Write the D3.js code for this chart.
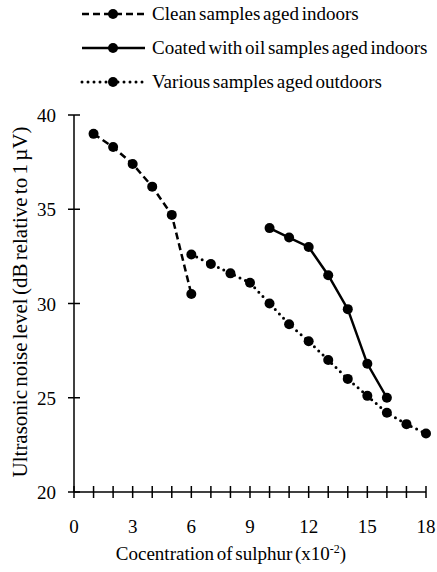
<!DOCTYPE html>
<html>
<head>
<meta charset="utf-8">
<script src="https://cdn.jsdelivr.net/npm/d3@7"></script>
<style>
  body { margin: 0; background: #fff; }
  text { font-family: "Liberation Serif", "Times New Roman", serif; fill: #000; }
</style>
</head>
<body>
<svg width="437" height="572"></svg>
<script>
// data
var cleanX = [1, 2, 3, 4, 5, 6];
var cleanY = [39.0, 38.3, 37.4, 36.2, 34.7, 30.5];
var oilX = [10, 11, 12, 13, 14, 15, 16];
var oilY = [34.0, 33.5, 33.0, 31.5, 29.7, 26.8, 25.0];
var outX = [6, 7, 8, 9, 10, 11, 12, 13, 14, 15, 16, 17, 18];
var outY = [32.6, 32.1, 31.6, 31.1, 30.0, 28.9, 28.0, 27.0, 26.0, 25.1, 24.2, 23.6, 23.1];
var seriesNames = ["Clean samples aged indoors", "Coated with oil samples aged indoors", "Various samples aged outdoors"];
var xTickLabels = [0, 3, 6, 9, 12, 15, 18];
var yTickLabels = [20, 25, 30, 35, 40];

var svg = d3.select("svg");

var x = d3.scaleLinear().domain([0, 18]).range([74, 426]);
var y = d3.scaleLinear().domain([20, 40]).range([492, 115]);

var series = [
  {name: seriesNames[0], xs: cleanX, ys: cleanY, dash: "7,4", cap: "butt"},
  {name: seriesNames[1], xs: oilX, ys: oilY, dash: null, cap: "butt"},
  {name: seriesNames[2], xs: outX, ys: outY, dash: "0,6", cap: "round"}
];

// x axis - ticks every unit, crossing the line
var xAxis = svg.append("g").attr("transform", "translate(0," + y(20) + ")");
xAxis.append("line").attr("x1", x(0)).attr("x2", x(18)).attr("stroke", "#000").attr("stroke-width", 1.5);
xAxis.selectAll(".tk").data(d3.range(0, 19)).enter().append("line")
  .attr("x1", function(d){return x(d);}).attr("x2", function(d){return x(d);})
  .attr("y1", -6).attr("y2", 6).attr("stroke", "#000").attr("stroke-width", 1.5);
xAxis.selectAll(".lb").data(xTickLabels).enter().append("text")
  .attr("x", function(d){return x(d);}).attr("y", 41)
  .attr("text-anchor", "middle").attr("font-size", 19)
  .text(function(d){return d;});

// y axis
var yAxis = svg.append("g").attr("transform", "translate(" + x(0) + ",0)");
yAxis.append("line").attr("y1", y(20)).attr("y2", y(40)).attr("stroke", "#000").attr("stroke-width", 1.5);
yAxis.selectAll(".tk").data(yTickLabels).enter().append("line")
  .attr("y1", function(d){return y(d);}).attr("y2", function(d){return y(d);})
  .attr("x1", -6).attr("x2", 6).attr("stroke", "#000").attr("stroke-width", 1.5);
yAxis.selectAll(".lb").data(yTickLabels).enter().append("text")
  .attr("x", -18).attr("y", function(d){return y(d) + 7;})
  .attr("text-anchor", "end").attr("font-size", 19)
  .text(function(d){return d;});

// axis titles
var xt = svg.append("text").attr("x", 231).attr("y", 560)
  .attr("text-anchor", "middle").attr("font-size", 19).attr("word-spacing", -2);
xt.append("tspan").text("Cocentration of sulphur (x10");
xt.append("tspan").attr("baseline-shift", "super").attr("font-size", 12).text("-2");
xt.append("tspan").text(")");

svg.append("text")
  .attr("transform", "translate(27,302) rotate(-90)")
  .attr("text-anchor", "middle").attr("font-size", 21).attr("word-spacing", -2)
  .text("Ultrasonic noise level (dB relative to 1 \u00b5V)");

// lines
var line = d3.line()
  .x(function(d){return x(d[0]);})
  .y(function(d){return y(d[1]);});

series.forEach(function(s){
  var pts = d3.zip(s.xs, s.ys);
  svg.append("path").datum(pts)
    .attr("d", line)
    .attr("fill", "none").attr("stroke", "#000")
    .attr("stroke-width", s.cap == "round" ? 3 : 2.5)
    .attr("stroke-linecap", s.cap)
    .attr("stroke-dasharray", s.dash);
  svg.selectAll(null).data(pts).enter().append("circle")
    .attr("cx", function(d){return x(d[0]);})
    .attr("cy", function(d){return y(d[1]);})
    .attr("r", 5).attr("fill", "#000");
});

// legend
var leg = svg.selectAll(".leg").data(series).enter().append("g")
  .attr("transform", function(d, i){return "translate(82," + (14 + i * 34) + ")";});
leg.append("line").attr("x1", 0).attr("x2", 63)
  .attr("stroke", "#000")
  .attr("stroke-width", function(d){return d.cap == "round" ? 3 : 2.5;})
  .attr("stroke-linecap", function(d){return d.cap;})
  .attr("stroke-dasharray", function(d){return d.dash;});
leg.append("circle").attr("cx", 31).attr("r", 5).attr("fill", "#000");
leg.append("text").attr("x", 70).attr("y", 6).attr("font-size", 19).attr("word-spacing", -2)
  .text(function(d){return d.name;});
</script>
</body>
</html>
